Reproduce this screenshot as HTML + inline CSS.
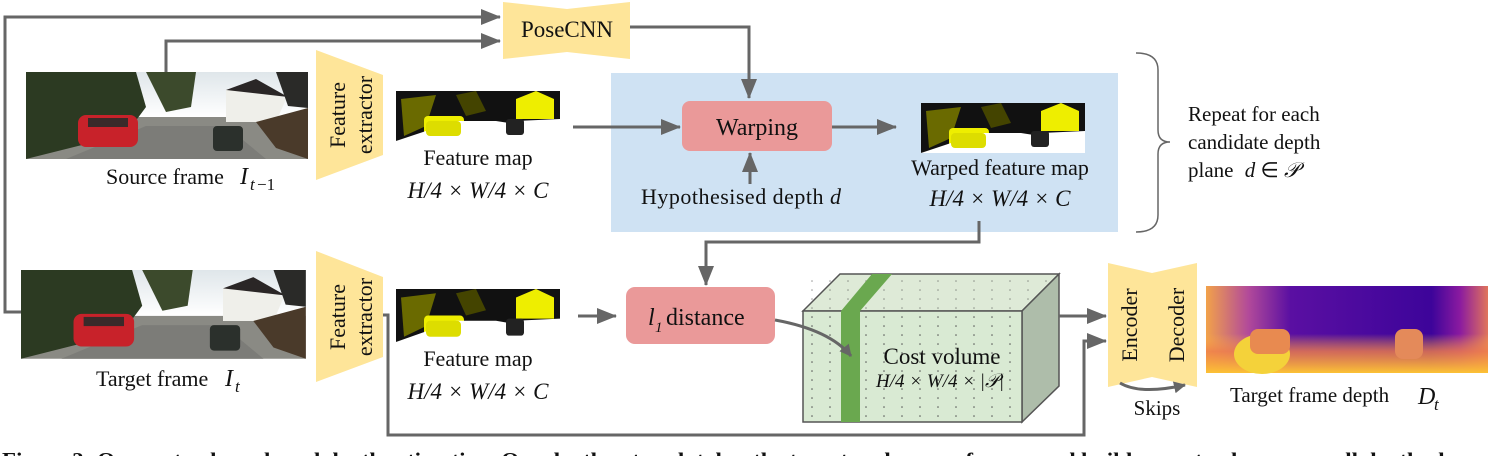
<!DOCTYPE html>
<html><head><meta charset="utf-8"><style>
html,body{margin:0;padding:0;background:#fff;}
svg{display:block;}
text{font-family:"Liberation Serif",serif;fill:#111;}
</style></head><body>
<svg width="1488" height="456" viewBox="0 0 1488 456" xmlns="http://www.w3.org/2000/svg">
<defs>
<marker id="ah" markerWidth="12" markerHeight="12" refX="11" refY="6" orient="auto" markerUnits="userSpaceOnUse" viewBox="0 0 12 12">
<path d="M0,0 L12,6 L0,12 z" fill="#666"/></marker>
<marker id="ahs" markerWidth="20" markerHeight="16" refX="19" refY="8" orient="auto" markerUnits="userSpaceOnUse" viewBox="0 0 20 16">
<path d="M0,0 L20,8 L0,16 z" fill="#666"/></marker>
<linearGradient id="sky" x1="0" y1="0" x2="0" y2="1"><stop offset="0" stop-color="#dfe6ea"/><stop offset="1" stop-color="#fff"/></linearGradient>
<linearGradient id="dep" x1="0" y1="0" x2="1" y2="0"><stop offset="0" stop-color="#f2a24a"/><stop offset="0.15" stop-color="#b24a9a"/><stop offset="0.3" stop-color="#5a0fa2"/><stop offset="0.8" stop-color="#3d049a"/><stop offset="0.9" stop-color="#8a1aa0"/><stop offset="1" stop-color="#e0745c"/></linearGradient>
<linearGradient id="depv" x1="0" y1="0" x2="0" y2="1"><stop offset="0.55" stop-color="#ffb040" stop-opacity="0"/><stop offset="0.75" stop-color="#f0804a" stop-opacity="0.8"/><stop offset="1" stop-color="#fcc235"/></linearGradient>
<pattern id="dots" width="18" height="9" patternUnits="userSpaceOnUse"><circle cx="2" cy="2" r="0.8" fill="#555"/></pattern>
<g id="photo">
<rect width="282" height="87" fill="#8a8a84"/>
<rect width="282" height="45" fill="url(#sky)"/>
<path d="M0,0 L110,0 L120,35 L100,62 L0,87 Z" fill="#2c3a22"/>
<path d="M120,0 L170,0 L165,35 L140,40 Z" fill="#3c4a2c"/>
<path d="M200,18 L230,9 L260,27 L250,50 L200,50 Z" fill="#efefea"/>
<path d="M200,18 L230,7 L262,25 Z" fill="#2a2626"/>
<path d="M230,50 L282,36 L282,87 L250,76 Z" fill="#4a3a2a"/>
<path d="M250,0 L282,0 L282,36 L262,34 Z" fill="#2a2a28"/>
<path d="M40,87 L240,87 L200,54 L120,54 Z" fill="#7c7c78"/>
<rect x="52" y="43" width="60" height="32" rx="8" fill="#c8222a"/>
<rect x="62" y="46" width="40" height="9" fill="#3a2a2a"/>
<rect x="187" y="54" width="30" height="25" rx="4" fill="#2b302c"/>
</g>
<g id="feat">
<rect width="164" height="50" fill="#fff"/>
<path d="M0,0 L164,0 L164,28 L120,30 L0,50 Z" fill="#111"/>
<path d="M5,8 L40,4 L30,35 L8,45 Z" fill="#6a6a00"/>
<path d="M120,8 L140,0 L158,8 L158,28 L120,28 Z" fill="#ee0"/>
<path d="M60,4 L80,0 L90,20 L70,25 Z" fill="#444400"/>
<rect x="28" y="25" width="40" height="20" rx="4" fill="#ee0"/>
<path d="M0,50 L164,50 L164,40 L100,30 L60,30 Z" fill="#fff"/>
<rect x="110" y="28" width="18" height="16" rx="3" fill="#222"/>
<rect x="30" y="30" width="35" height="15" rx="4" fill="#dd0"/>
</g>
</defs>

<!-- top connectors -->
<polyline points="24,312 5,312 5,17 500,17" fill="none" stroke="#666" stroke-width="3" marker-end="url(#ahs)"/>
<polyline points="166,72 166,41 500,41" fill="none" stroke="#666" stroke-width="3" marker-end="url(#ahs)"/>
<!-- PoseCNN -->
<path d="M503,2 L567,9 L630,2 L630,59 L567,52 L503,59 Z" fill="#fee599"/>
<text x="567" y="37" font-size="23" text-anchor="middle">PoseCNN</text>

<!-- source -->
<use href="#photo" x="26" y="72"/>
<text x="106" y="184" font-size="22">Source frame</text>
<text x="240" y="184" font-size="24" font-style="italic">I</text><text x="250" y="190" font-size="17" font-style="italic">t</text><text x="257" y="190" font-size="17">−1</text>
<path d="M316,50 L383,75 L383,155 L316,180 Z" fill="#fee599"/>
<text transform="translate(345,115) rotate(-90)" font-size="22" text-anchor="middle">Feature</text>
<text transform="translate(372,115) rotate(-90)" font-size="22" text-anchor="middle">extractor</text>
<use href="#feat" x="396" y="91"/>
<text x="478" y="165" font-size="22" text-anchor="middle">Feature map</text>
<text x="478" y="198" font-size="23" font-style="italic" text-anchor="middle">H/4 × W/4 × C</text>

<!-- blue box -->
<rect x="611" y="73" width="507" height="159" fill="#cfe2f3"/>
<polyline points="630,27 749,27 749,98" fill="none" stroke="#666" stroke-width="3" marker-end="url(#ahs)"/>
<polyline points="573,127 680,127" fill="none" stroke="#666" stroke-width="3" marker-end="url(#ahs)"/>
<rect x="682" y="101" width="150" height="50" rx="8" fill="#ea9999"/>
<text x="757" y="135" font-size="24" text-anchor="middle">Warping</text>
<polyline points="832,127 896,127" fill="none" stroke="#666" stroke-width="3" marker-end="url(#ahs)"/>
<polyline points="750,184 750,153" fill="none" stroke="#666" stroke-width="3" marker-end="url(#ahs)"/>
<text x="641" y="204" font-size="22" textLength="200">Hypothesised depth <tspan font-style="italic">d</tspan></text>
<use href="#feat" x="921" y="103"/>
<text x="1000" y="175" font-size="22" text-anchor="middle">Warped feature map</text>
<text x="1000" y="206" font-size="23" font-style="italic" text-anchor="middle">H/4 × W/4 × C</text>
<!-- brace -->
<path d="M1136,53 Q1158,53 1158,70 L1158,130 Q1158,142 1170,142 Q1158,142 1158,154 L1158,215 Q1158,232 1136,232" fill="none" stroke="#666" stroke-width="1.5"/>
<text x="1188" y="121" font-size="21">Repeat for each</text>
<text x="1188" y="149" font-size="21">candidate depth</text>
<text x="1188" y="177" font-size="21">plane <tspan font-style="italic" dx="6">d</tspan> ∈ <tspan font-style="italic">𝒫</tspan></text>

<polyline points="979,221 979,242 706,242 706,285" fill="none" stroke="#666" stroke-width="3" marker-end="url(#ahs)"/>

<!-- target -->
<use href="#photo" transform="translate(21,270) scale(1.01,1.02)"/>
<text x="96" y="386" font-size="22">Target frame</text>
<text x="225" y="386" font-size="24" font-style="italic">I</text><text x="235" y="392" font-size="17" font-style="italic">t</text>
<path d="M316,251 L383,277 L383,357 L316,382 Z" fill="#fee599"/>
<text transform="translate(345,317) rotate(-90)" font-size="22" text-anchor="middle">Feature</text>
<text transform="translate(372,317) rotate(-90)" font-size="22" text-anchor="middle">extractor</text>
<use href="#feat" transform="translate(396,289) scale(1.0,1.06)"/>
<text x="478" y="366" font-size="22" text-anchor="middle">Feature map</text>
<text x="478" y="399" font-size="23" font-style="italic" text-anchor="middle">H/4 × W/4 × C</text>
<polyline points="383,315 388,315 388,435 1084,435 1084,341 1106,341" fill="none" stroke="#666" stroke-width="3" marker-end="url(#ahs)"/>
<polyline points="578,316 616,316" fill="none" stroke="#666" stroke-width="3" marker-end="url(#ahs)"/>
<rect x="626" y="287" width="149" height="57" rx="9" fill="#ea9999"/>
<text x="648" y="325" font-size="24" font-style="italic">l</text><text x="655" y="332" font-size="15" font-style="italic">1</text>
<text x="666" y="325" font-size="24">distance</text>

<!-- cube -->
<path d="M803,311 L840,274 L1059,274 L1022,311 Z" fill="#deead7" stroke="#555" stroke-width="1.5"/>
<rect x="805" y="276" width="250" height="34" fill="url(#dots)" opacity="0.6"/>
<path d="M1022,311 L1059,274 L1059,386 L1022,422 Z" fill="#aebdaa" stroke="#555" stroke-width="1.5"/>
<rect x="803" y="311" width="219" height="111" fill="#d9ead3" stroke="#555" stroke-width="1.5"/>
<rect x="805" y="313" width="215" height="107" fill="url(#dots)"/>
<path d="M841,311 L872,274 L892,274 L860,311 Z" fill="#6aa84f"/>
<rect x="841" y="311" width="19" height="111" fill="#6aa84f"/>
<path d="M775,320 Q830,330 851,356" fill="none" stroke="#666" stroke-width="3" marker-end="url(#ah)"/>
<text x="942" y="364" font-size="23" text-anchor="middle">Cost volume</text>
<text x="940" y="387" font-size="19" font-style="italic" text-anchor="middle">H/4 × W/4 × |𝒫|</text>
<polyline points="1059,316 1106,316" fill="none" stroke="#666" stroke-width="3" marker-end="url(#ahs)"/>

<!-- encoder decoder -->
<path d="M1108,263 L1152,273 L1197,263 L1197,387 L1152,377 L1108,387 Z" fill="#fee599"/>
<text transform="translate(1137,325) rotate(-90)" font-size="22" text-anchor="middle">Encoder</text>
<text transform="translate(1184,325) rotate(-90)" font-size="22" text-anchor="middle">Decoder</text>
<path d="M1120,383 Q1140,395 1185,385" fill="none" stroke="#666" stroke-width="3" marker-end="url(#ah)"/>
<text x="1157" y="415" font-size="21" text-anchor="middle">Skips</text>

<!-- depth -->
<rect x="1206" y="286" width="282" height="87" fill="url(#dep)"/>
<rect x="1206" y="286" width="282" height="87" fill="url(#depv)"/>
<ellipse cx="1262" cy="354" rx="28" ry="20" fill="#f4d23a"/>
<rect x="1250" y="329" width="40" height="25" rx="8" fill="#e88a50"/>
<rect x="1395" y="329" width="28" height="30" rx="8" fill="#e48a5a"/>
<text x="1230" y="402" font-size="21">Target frame depth</text>
<text x="1418" y="404" font-size="24" font-style="italic">D</text><text x="1434" y="410" font-size="17" font-style="italic">t</text>

<!-- caption (cut) -->
<text x="2" y="467" font-size="21" font-weight="bold" textLength="1486" lengthAdjust="spacingAndGlyphs">Figure 3: Our cost volume based depth estimation. Our depth network takes the target and source frames and builds a cost volume over all depth planes</text>
</svg>
</body></html>
